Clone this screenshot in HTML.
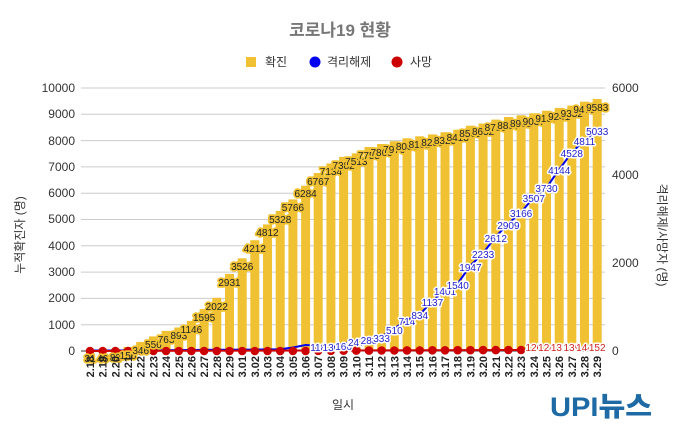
<!DOCTYPE html>
<html><head><meta charset="utf-8"><style>
body{margin:0;background:#fff}
svg{display:block;font-family:"Liberation Sans","Noto Sans CJK KR",sans-serif}
.bl text{font-size:10px;fill:#222;text-anchor:middle;stroke:#f0c233;stroke-width:3.5px;paint-order:stroke;stroke-linejoin:round}
.gl text{font-size:10px;fill:#2222cc;text-anchor:middle;stroke:#fff;stroke-width:3px;paint-order:stroke;stroke-linejoin:round}
.rl text{font-size:10px;fill:#cc2222;text-anchor:middle;stroke:#fff;stroke-width:3px;paint-order:stroke;stroke-linejoin:round}
.xl text{font-size:11px;font-weight:bold;fill:#222;text-anchor:end}
.ax text{font-size:12px;fill:#333}
</style></head><body>
<svg width="680" height="427" viewBox="0 0 680 427">
<text x="340" y="36" text-anchor="middle" font-size="17" font-weight="bold" fill="#777">코로나19 현황</text>
<rect x="246" y="57" width="10" height="10" fill="#f0c233"/><text x="265" y="66" font-size="12" fill="#333">확진</text>
<circle cx="315" cy="62" r="5.5" fill="#0000ee"/><text x="327" y="66" font-size="12" fill="#333">격리해제</text>
<circle cx="397" cy="62" r="5.5" fill="#cc0000"/><text x="410" y="66" font-size="12" fill="#333">사망</text>
<g stroke="#ccc" stroke-width="1">
<line x1="81" x2="605" y1="88" y2="88"/><line x1="81" x2="605" y1="114.3" y2="114.3"/><line x1="81" x2="605" y1="140.6" y2="140.6"/><line x1="81" x2="605" y1="166.9" y2="166.9"/><line x1="81" x2="605" y1="193.2" y2="193.2"/><line x1="81" x2="605" y1="219.5" y2="219.5"/><line x1="81" x2="605" y1="245.8" y2="245.8"/><line x1="81" x2="605" y1="272.1" y2="272.1"/><line x1="81" x2="605" y1="298.4" y2="298.4"/><line x1="81" x2="605" y1="324.7" y2="324.7"/>
</g>
<line x1="81" x2="605" y1="351" y2="351" stroke="#333"/>
<g class="ax" text-anchor="end">
<text x="75" y="92">10000</text><text x="75" y="118">9000</text><text x="75" y="145">8000</text><text x="75" y="171">7000</text><text x="75" y="197">6000</text><text x="75" y="223">5000</text><text x="75" y="250">4000</text><text x="75" y="276">3000</text><text x="75" y="302">2000</text><text x="75" y="329">1000</text><text x="75" y="355">0</text>
</g>
<g class="ax"><text x="612" y="92">6000</text><text x="612" y="179">4000</text><text x="612" y="267">2000</text><text x="612" y="355">0</text></g>
<text class="ax" transform="translate(24,235) rotate(-90)" text-anchor="middle" font-size="12" fill="#333">누적확진자 (명)</text>
<text transform="translate(658,235) rotate(90)" text-anchor="middle" font-size="12" fill="#333">격리해제/사망자 (명)</text>
<text x="343" y="409" text-anchor="middle" font-size="12" fill="#333">일시</text>
<g fill="#f0c233">
<rect x="85.5" y="350.2" width="9" height="0.8"/><rect x="98.2" y="349.8" width="9" height="1.2"/><rect x="110.9" y="348.8" width="9" height="2.2"/><rect x="123.5" y="346.9" width="9" height="4.1"/><rect x="136.2" y="341.9" width="9" height="9.1"/><rect x="148.9" y="336.4" width="9" height="14.6"/><rect x="161.6" y="330.9" width="9" height="20.1"/><rect x="174.3" y="327.5" width="9" height="23.5"/><rect x="186.9" y="320.9" width="9" height="30.1"/><rect x="199.6" y="309.1" width="9" height="41.9"/><rect x="212.3" y="297.8" width="9" height="53.2"/><rect x="225" y="273.9" width="9" height="77.1"/><rect x="237.7" y="258.3" width="9" height="92.7"/><rect x="250.3" y="240.2" width="9" height="110.8"/><rect x="263" y="224.4" width="9" height="126.6"/><rect x="275.7" y="210.9" width="9" height="140.1"/><rect x="288.4" y="199.4" width="9" height="151.6"/><rect x="301.1" y="185.7" width="9" height="165.3"/><rect x="313.7" y="173" width="9" height="178"/><rect x="326.4" y="163.4" width="9" height="187.6"/><rect x="339.1" y="156.9" width="9" height="194.1"/><rect x="351.8" y="153.4" width="9" height="197.6"/><rect x="364.5" y="147" width="9" height="204"/><rect x="377.1" y="144" width="9" height="207"/><rect x="389.8" y="141.2" width="9" height="209.8"/><rect x="402.5" y="138.3" width="9" height="212.7"/><rect x="415.2" y="136.3" width="9" height="214.7"/><rect x="427.9" y="134.4" width="9" height="216.6"/><rect x="440.5" y="132.2" width="9" height="218.8"/><rect x="453.2" y="129.7" width="9" height="221.3"/><rect x="465.9" y="125.7" width="9" height="225.3"/><rect x="478.6" y="123.5" width="9" height="227.5"/><rect x="491.3" y="119.6" width="9" height="231.4"/><rect x="503.9" y="117" width="9" height="234"/><rect x="516.6" y="115.3" width="9" height="235.7"/><rect x="529.3" y="113.3" width="9" height="237.7"/><rect x="542" y="110.7" width="9" height="240.3"/><rect x="554.7" y="107.9" width="9" height="243.1"/><rect x="567.3" y="105.6" width="9" height="245.4"/><rect x="580" y="101.7" width="9" height="249.3"/><rect x="592.7" y="99" width="9" height="252"/>
</g>
<polyline fill="none" stroke="#0000ee" stroke-width="2" points="90,350.5 102.7,350.5 115.4,350.5 128,350.4 140.7,350.4 153.4,350.3 166.1,350.2 178.8,350.1 191.4,350 204.1,349.9 216.8,349.8 229.5,349.7 242.2,349.6 254.8,349.6 267.5,349.4 280.2,349.2 292.9,347.5 305.6,345 318.2,345.8 330.9,345.3 343.6,343.7 356.3,340.2 369,338.4 381.6,336.4 394.3,328.6 407,319.7 419.7,314.4 432.4,301.2 445,289.6 457.7,283.5 470.4,265.7 483.1,253.1 495.8,236.5 508.4,223.5 521.1,212.2 533.8,197.3 546.5,187.5 559.2,169.4 571.8,152.5 584.5,140.1 597.2,130.4"/>
<polyline fill="none" stroke="#cc0000" stroke-width="2" points="90,351 521.1,350"/>
<g fill="#cc0000">
<circle cx="90" cy="351" r="4.3"/><circle cx="102.7" cy="351" r="4.3"/><circle cx="115.4" cy="351" r="4.3"/><circle cx="128" cy="351" r="4.3"/><circle cx="140.7" cy="351" r="4.3"/><circle cx="153.4" cy="351" r="4.3"/><circle cx="166.1" cy="351" r="4.3"/><circle cx="178.8" cy="351" r="4.3"/><circle cx="191.4" cy="351" r="4.3"/><circle cx="204.1" cy="351" r="4.3"/><circle cx="216.8" cy="351" r="4.3"/><circle cx="229.5" cy="351" r="4.3"/><circle cx="242.2" cy="351" r="4.3"/><circle cx="254.8" cy="351" r="4.3"/><circle cx="267.5" cy="351" r="4.3"/><circle cx="280.2" cy="351" r="4.3"/><circle cx="292.9" cy="351" r="4.3"/><circle cx="305.6" cy="351" r="4.3"/><circle cx="318.2" cy="350.8" r="4.3"/><circle cx="330.9" cy="350.8" r="4.3"/><circle cx="343.6" cy="350.7" r="4.3"/><circle cx="356.3" cy="350.6" r="4.3"/><circle cx="369" cy="350.6" r="4.3"/><circle cx="381.6" cy="350.5" r="4.3"/><circle cx="394.3" cy="350.5" r="4.3"/><circle cx="407" cy="350.4" r="4.3"/><circle cx="419.7" cy="350.4" r="4.3"/><circle cx="432.4" cy="350.3" r="4.3"/><circle cx="445" cy="350.3" r="4.3"/><circle cx="457.7" cy="350.2" r="4.3"/><circle cx="470.4" cy="350.2" r="4.3"/><circle cx="483.1" cy="350.1" r="4.3"/><circle cx="495.8" cy="350.1" r="4.3"/><circle cx="508.4" cy="350" r="4.3"/><circle cx="521.1" cy="350" r="4.3"/>
</g>
<g class="bl">
<text x="90" y="362">31</text><text x="102.7" y="362">46</text><text x="115.4" y="361">82</text><text x="128" y="359">156</text><text x="140.7" y="354">346</text><text x="153.4" y="348">556</text><text x="166.1" y="343">763</text><text x="178.8" y="339">893</text><text x="191.4" y="333">1146</text><text x="204.1" y="321">1595</text><text x="216.8" y="310">2022</text><text x="229.5" y="286">2931</text><text x="242.2" y="270">3526</text><text x="254.8" y="252">4212</text><text x="267.5" y="236">4812</text><text x="280.2" y="223">5328</text><text x="292.9" y="211">5766</text><text x="305.6" y="197">6284</text><text x="318.2" y="185">6767</text><text x="330.9" y="175">7134</text><text x="343.6" y="169">7382</text><text x="356.3" y="165">7513</text><text x="369" y="159">7755</text><text x="381.6" y="156">7869</text><text x="394.3" y="153">7979</text><text x="407" y="150">8086</text><text x="419.7" y="148">8162</text><text x="432.4" y="146">8236</text><text x="445" y="144">8320</text><text x="457.7" y="141">8413</text><text x="470.4" y="137">8565</text><text x="483.1" y="135">8652</text><text x="495.8" y="131">8799</text><text x="508.4" y="129">8897</text><text x="521.1" y="127">8961</text><text x="533.8" y="125">9037</text><text x="546.5" y="122">9137</text><text x="559.2" y="120">9241</text><text x="571.8" y="117">9332</text><text x="584.5" y="113">9478</text><text x="597.2" y="111">9583</text>
</g>
<g class="gl">
<text x="318.2" y="351">118</text><text x="330.9" y="351">130</text><text x="343.6" y="350">166</text><text x="356.3" y="346">247</text><text x="369" y="344">288</text><text x="381.6" y="342">333</text><text x="394.3" y="334">510</text><text x="407" y="325">714</text><text x="419.7" y="319">834</text><text x="432.4" y="306">1137</text><text x="445" y="295">1401</text><text x="457.7" y="289">1540</text><text x="470.4" y="271">1947</text><text x="483.1" y="258">2233</text><text x="495.8" y="242">2612</text><text x="508.4" y="229">2909</text><text x="521.1" y="217">3166</text><text x="533.8" y="202">3507</text><text x="546.5" y="192">3730</text><text x="559.2" y="174">4144</text><text x="571.8" y="157">4528</text><text x="584.5" y="145">4811</text><text x="597.2" y="135">5033</text>
</g>
<g class="rl">
<text x="533.8" y="351">120</text><text x="546.5" y="351">124</text><text x="559.2" y="351">131</text><text x="571.8" y="351">139</text><text x="584.5" y="351">144</text><text x="597.2" y="351">152</text>
</g>
<g class="xl">
<text transform="translate(94,356) rotate(-90)">2.18</text><text transform="translate(106.7,356) rotate(-90)">2.19</text><text transform="translate(119.4,356) rotate(-90)">2.20</text><text transform="translate(132,356) rotate(-90)">2.21</text><text transform="translate(144.7,356) rotate(-90)">2.22</text><text transform="translate(157.4,356) rotate(-90)">2.23</text><text transform="translate(170.1,356) rotate(-90)">2.24</text><text transform="translate(182.8,356) rotate(-90)">2.25</text><text transform="translate(195.4,356) rotate(-90)">2.26</text><text transform="translate(208.1,356) rotate(-90)">2.27</text><text transform="translate(220.8,356) rotate(-90)">2.28</text><text transform="translate(233.5,356) rotate(-90)">2.29</text><text transform="translate(246.2,356) rotate(-90)">3.01</text><text transform="translate(258.8,356) rotate(-90)">3.02</text><text transform="translate(271.5,356) rotate(-90)">3.03</text><text transform="translate(284.2,356) rotate(-90)">3.04</text><text transform="translate(296.9,356) rotate(-90)">3.05</text><text transform="translate(309.6,356) rotate(-90)">3.06</text><text transform="translate(322.2,356) rotate(-90)">3.07</text><text transform="translate(334.9,356) rotate(-90)">3.08</text><text transform="translate(347.6,356) rotate(-90)">3.09</text><text transform="translate(360.3,356) rotate(-90)">3.10</text><text transform="translate(373,356) rotate(-90)">3.11</text><text transform="translate(385.6,356) rotate(-90)">3.12</text><text transform="translate(398.3,356) rotate(-90)">3.13</text><text transform="translate(411,356) rotate(-90)">3.14</text><text transform="translate(423.7,356) rotate(-90)">3.15</text><text transform="translate(436.4,356) rotate(-90)">3.16</text><text transform="translate(449,356) rotate(-90)">3.17</text><text transform="translate(461.7,356) rotate(-90)">3.18</text><text transform="translate(474.4,356) rotate(-90)">3.19</text><text transform="translate(487.1,356) rotate(-90)">3.20</text><text transform="translate(499.8,356) rotate(-90)">3.21</text><text transform="translate(512.4,356) rotate(-90)">3.22</text><text transform="translate(525.1,356) rotate(-90)">3.23</text><text transform="translate(537.8,356) rotate(-90)">3.24</text><text transform="translate(550.5,356) rotate(-90)">3.25</text><text transform="translate(563.2,356) rotate(-90)">3.26</text><text transform="translate(575.8,356) rotate(-90)">3.27</text><text transform="translate(588.5,356) rotate(-90)">3.28</text><text transform="translate(601.2,356) rotate(-90)">3.29</text>
</g>
<text x="550" y="416" font-size="27" font-weight="900" fill="#1d6aa5" textLength="102" lengthAdjust="spacingAndGlyphs" font-family="'Liberation Sans','Noto Sans CJK KR',sans-serif">UPI뉴스</text>
</svg>
</body></html>
